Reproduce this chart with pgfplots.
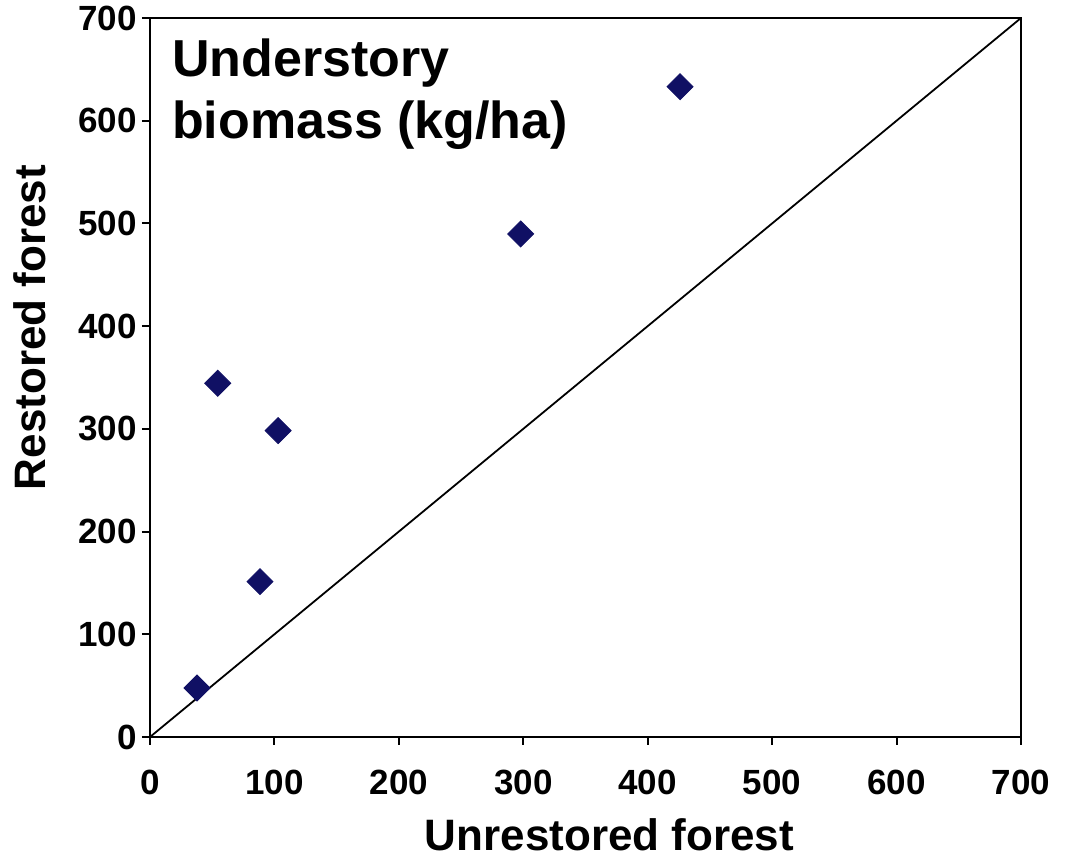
\documentclass[border=0pt]{standalone}
\usepackage{pgfplots}
\pgfplotsset{compat=1.18}
\usepackage{fontspec}
\setmainfont{Liberation Sans}
\definecolor{navy}{RGB}{16,16,100}
\begin{document}
\begin{tikzpicture}
\begin{axis}[
  scale only axis,
  width=435.5pt, height=359.5pt,
  xmin=0, xmax=700, ymin=0, ymax=700,
  xtick={0,100,...,700}, ytick={0,100,...,700},
  xtick pos=left, ytick pos=left,
  tick align=outside, major tick length=4pt,
  tick style={black, line width=1pt},
  axis line style={line width=1.3pt},
  every tick label/.style={font=\bfseries\fontsize{17.5}{20}\selectfont},
  /pgf/number format/assume math mode=true,
  xticklabel style={yshift=-9pt},
  yticklabel style={xshift=1pt},
  xlabel={\bfseries Unrestored forest},
  ylabel={\bfseries Restored forest},
  label style={font=\bfseries\fontsize{22}{24}\selectfont},
  xlabel style={yshift=-5pt, xshift=12pt},
  ylabel style={yshift=9.5pt, xshift=25pt},
  clip=false,
]
\addplot[black, line width=0.9pt, no marks] coordinates {(0,0) (700,700)};
\addplot[only marks, mark=square*, mark size=4.6pt, mark options={rotate=45, fill=navy, draw=navy}]
  coordinates {(37.8,47.7) (54.4,344.4) (103.0,298.3) (88.4,151.3) (297.9,489.7) (426,633.1)};
\node[anchor=north west, align=left, font=\bfseries\fontsize{26}{31}\selectfont, inner sep=0pt] at (rel axis cs:0.025,0.972) {Understory\\biomass (kg/ha)};
\coordinate (sw) at (rel axis cs:0,0);
\coordinate (ne) at (rel axis cs:1,1);
\end{axis}
\pgfresetboundingbox
\path[use as bounding box] ([xshift=-75pt,yshift=-60pt]sw) rectangle ([xshift=22pt,yshift=9pt]ne);
\end{tikzpicture}
\end{document}
